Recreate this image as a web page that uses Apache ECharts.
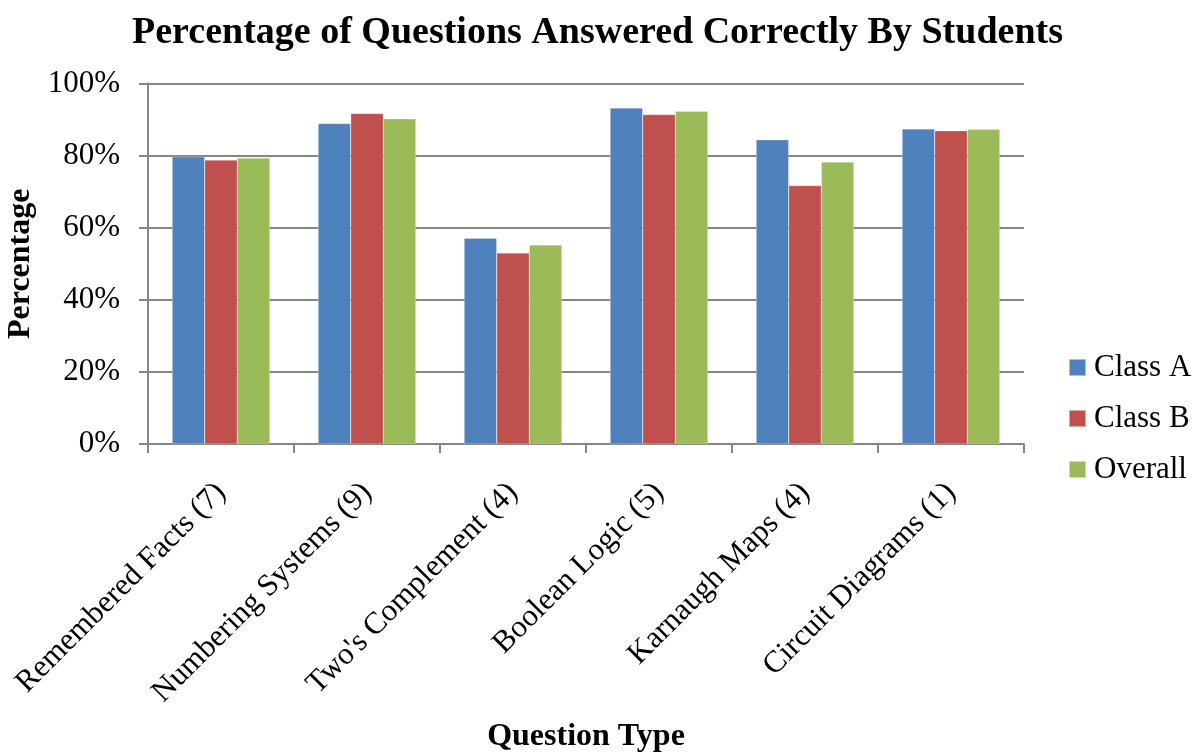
<!DOCTYPE html>
<html>
<head>
<meta charset="utf-8">
<script src="https://cdn.jsdelivr.net/npm/echarts@6/dist/echarts.min.js"></script>
<style>html,body{margin:0;padding:0;background:#fff}#c{width:1195px;height:753px}</style>
</head>
<body>
<div id="c"></div>
<script>
const categories = ["Remembered Facts (7)", "Numbering Systems (9)", "Two's Complement (4)", "Boolean Logic (5)", "Karnaugh Maps (4)", "Circuit Diagrams (1)"];
const classA = [79.7, 88.9, 57.1, 93.2, 84.4, 87.4];
const classB = [78.8, 91.7, 53.0, 91.4, 71.7, 86.9];
const overall = [79.3, 90.2, 55.2, 92.3, 78.2, 87.3];
const seriesNames = ["Class A", "Class B", "Overall"];
const colors = ["#4F81BD", "#C0504D", "#9BBB59"];

const font = "'Liberation Serif', 'Times New Roman', serif";
const chart = echarts.init(document.getElementById('c'), null, {renderer: 'canvas'});
const mk = (name, data, i) => ({
  name: name, type: 'bar', data: data,
  barGap: '0%', barCategoryGap: '33%',
  itemStyle: {color: colors[i], borderColor: 'rgba(255,255,255,0.5)', borderWidth: 0.5},
  animation: false
});
chart.setOption({
  animation: false,
  textStyle: {fontFamily: font},
  title: {
    text: 'Percentage of Questions Answered Correctly By Students',
    left: 'center', top: 9,
    textStyle: {fontFamily: font, fontSize: 38, fontWeight: 'bold', color: '#000'}
  },
  legend: {
    orient: 'vertical', left: 1063, top: 347, itemGap: 20,
    itemWidth: 17, itemHeight: 17, icon: 'rect',
    data: seriesNames,
    textStyle: {fontFamily: font, fontSize: 31, color: '#000', padding: [0,0,0,3]}
  },
  grid: {left: 148, right: 171, top: 83.5, bottom: 309, containLabel: false, outerBoundsMode: 'none'},
  xAxis: {
    type: 'category', data: categories,
    name: 'Question Type', nameLocation: 'middle', nameGap: 277,
    nameTextStyle: {fontFamily: font, fontSize: 32, fontWeight: 'bold', color: '#000'},
    axisLine: {lineStyle: {color: '#868686', width: 2}},
    axisTick: {show: true, length: 9, lineStyle: {color: '#868686', width: 2}, alignWithLabel: false},
    axisLabel: {rotate: 45, fontFamily: font, fontSize: 31, color: '#000', margin: 44, interval: 0}
  },
  yAxis: {
    type: 'value', min: 0, max: 100, interval: 20,
    name: 'Percentage', nameLocation: 'middle', nameGap: 108, nameRotate: 90,
    nameTextStyle: {fontFamily: font, fontSize: 32, fontWeight: 'bold', color: '#000'},
    axisLine: {show: true, lineStyle: {color: '#868686', width: 2}},
    axisTick: {show: true, length: 9, lineStyle: {color: '#868686', width: 2}},
    axisLabel: {formatter: '{value}%', fontFamily: font, fontSize: 31, color: '#000', margin: 28},
    splitLine: {show: true, lineStyle: {color: '#868686', width: 2}}
  },
  series: [mk(seriesNames[0], classA, 0), mk(seriesNames[1], classB, 1), mk(seriesNames[2], overall, 2)]
});
</script>
</body>
</html>
